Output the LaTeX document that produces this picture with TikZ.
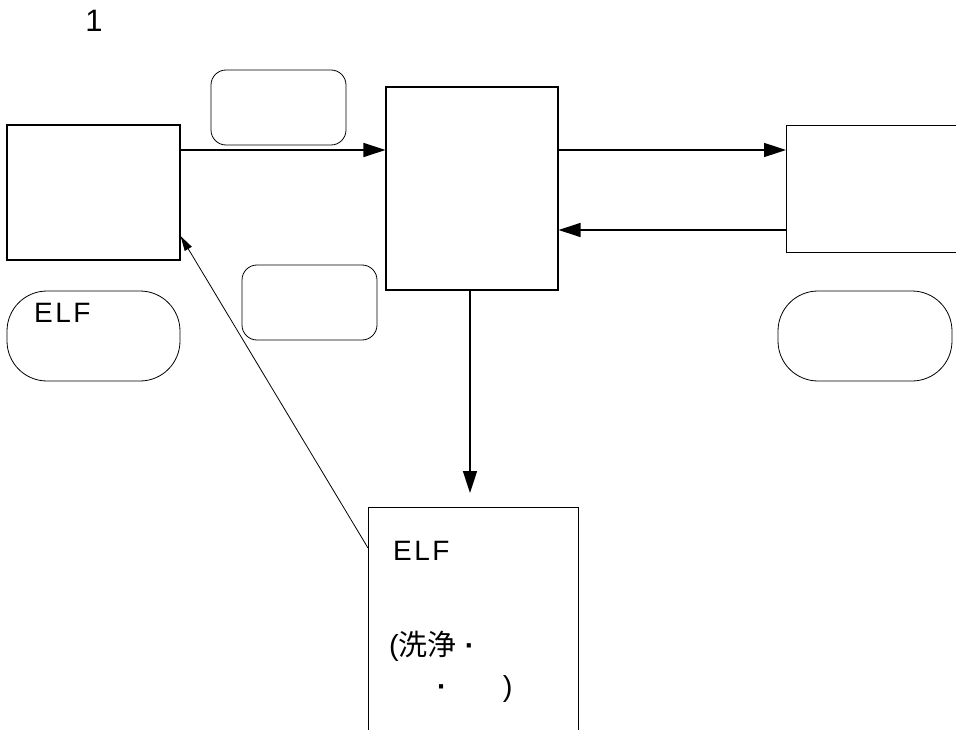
\documentclass[tikz,border=0pt]{standalone}
\usepackage{fontspec}
\setmainfont{Liberation Sans}
\newfontfamily\jpfont{Noto Sans CJK JP}
\usetikzlibrary{arrows.meta,positioning}

\begin{document}
\begin{tikzpicture}[x=1pt, y=-1pt,
    block/.style={draw, line width=1.1pt, inner sep=0pt},
    tag/.style={draw, line width=0.8pt, inner sep=0pt, rounded corners=15pt},
    pill/.style={draw, line width=0.8pt, inner sep=0pt, rounded corners=40pt, minimum width=173pt, minimum height=90pt},
    label/.style={inner sep=0pt, anchor=west, font=\fontsize{28}{32}\selectfont\addfontfeature{LetterSpace=9}},
    arrow/.style={-{Triangle[length=22pt, width=14pt]}, line width=1.6pt},
    thinarrow/.style={-{Triangle[length=15pt, width=8pt]}, line width=0.8pt}
]
    \useasboundingbox (0,0) rectangle (956,730);
    \clip (0,0) rectangle (956,730);

    % Title
    \node[inner sep=0pt, font=\fontsize{31}{34}\selectfont] (title) at (94,21) {1};

    % Boxes
    \node[block, minimum width=173pt, minimum height=135pt] (source) at (93.5,192.5) {};
    \node[block, minimum width=172pt, minimum height=203pt] (plant) at (472,188.5) {};
    \node[block, minimum width=200pt, minimum height=127pt, anchor=north west] (user) at (786,125) {};
    \node[block, minimum width=210pt, minimum height=260pt, anchor=north west] (recycle) at (368,507) {};

    % Rounded tags
    \node[tag, minimum width=135pt, minimum height=75pt] (tag1) at (278.5,107.5) {};
    \node[tag, minimum width=135pt, minimum height=75pt] (tag2) at (309.5,302.5) {};
    \node[pill] (elfpill) at (93.5,336) {};
    \node[pill, minimum width=174pt] (userpill) at (865,336) {};

    % Texts
    \node[label] (elf1) at (34,313) {ELF};
    \node[label] (elf2) at (393,551) {ELF};
    \node[label, font=\fontsize{29}{32}\selectfont] (wash1) at (389,646) {({\jpfont 洗浄} {\bfseries ·}};
    \node[label, font=\fontsize{29}{32}\selectfont] (wash2) at (437,689) {{\bfseries ·}\hspace{56pt})};

    % Connections
    \draw[arrow] (source.east |- 0,150) -- (plant.west |- 0,150);
    \draw[arrow] (plant.east |- 0,150) -- (user.west |- 0,150);
    \draw[arrow] (user.west |- 0,230) -- (plant.east |- 0,230);
    \draw[arrow, shorten >=14pt] (plant.south -| 470,0) -- (recycle.north -| 470,0);
    \draw[thinarrow] (recycle.west |- 0,548) -- (source.east |- 0,236);
\end{tikzpicture}
\end{document}
